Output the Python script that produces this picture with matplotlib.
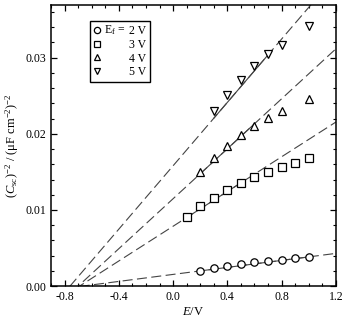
import matplotlib
matplotlib.use("Agg")
import matplotlib.pyplot as plt
import numpy as np
from matplotlib.ticker import MultipleLocator

plt.rcParams['font.family'] = ['Liberation Serif', 'DejaVu Serif']
plt.rcParams['mathtext.fontset'] = 'custom'
plt.rcParams['mathtext.rm'] = 'Liberation Serif'
plt.rcParams['mathtext.it'] = 'Liberation Serif:italic'

# data (E in V, Csc^-2 in (uF cm^-2)^-2)
E_2V = [0.2, 0.3, 0.4, 0.5, 0.6, 0.7, 0.8, 0.9, 1.0]
C_2V = [0.00202, 0.00232, 0.00259, 0.00289, 0.00311, 0.00329, 0.00342, 0.00364, 0.00377]

E_3V = [0.1, 0.2, 0.3, 0.4, 0.5, 0.6, 0.7, 0.8, 0.9, 1.0]
C_3V = [0.0091, 0.01046, 0.01156, 0.01262, 0.01358, 0.01429, 0.01495, 0.01569, 0.01613, 0.01679]

E_4V = [0.2, 0.3, 0.4, 0.5, 0.6, 0.7, 0.8, 1.0]
C_4V = [0.01494, 0.01679, 0.01837, 0.01991, 0.02105, 0.02211, 0.02299, 0.02459]

E_5V = [0.3, 0.4, 0.5, 0.6, 0.7, 0.8, 1.0]
C_5V = [0.0230, 0.0251, 0.0271, 0.0289, 0.0305, 0.0317, 0.0341]

# Mott-Schottky fits: flat band potential, slope, fit range
fb = [-0.67, -0.69, -0.70, -0.76]
slope = [0.0023, 0.0114, 0.0164, 0.0208]
fit_lo = [0.2, 0.1, 0.2, 0.3]
fit_hi = [1.0, 0.5, 0.6, 0.7]

series = [(E_2V, C_2V, 'o'), (E_3V, C_3V, 's'), (E_4V, C_4V, '^'), (E_5V, C_5V, 'v')]
labels = ['2 V', '3 V', '4 V', '5 V']

fig = plt.figure(figsize=(3.47, 3.19), dpi=100)
ax = fig.add_axes([0.147, 0.103, 0.821, 0.881])

xx = np.linspace(-0.9, 1.2, 200)
handles = []
for i, (E, C, m) in enumerate(series):
    ax.plot(xx, slope[i] * (xx - fb[i]), color='#444444', lw=0.8, dashes=(9, 4))
    xs = np.linspace(fit_lo[i], fit_hi[i], 50)
    ax.plot(xs, slope[i] * (xs - fb[i]), color='#444444', lw=0.8)
    h, = ax.plot(E, C, m, ms=5.3, mfc='white', mec='black', mew=0.9, ls='none')
    handles.append(h)

ax.set_xlim(-0.9, 1.2)
ax.set_ylim(0, 0.0369)
ax.xaxis.set_major_locator(MultipleLocator(0.4))
ax.xaxis.set_minor_locator(MultipleLocator(0.1))
ax.yaxis.set_major_locator(MultipleLocator(0.01))
ax.yaxis.set_minor_locator(MultipleLocator(0.002))
ax.xaxis.set_major_formatter(matplotlib.ticker.FuncFormatter(lambda v, p: '%.1f' % v))
ax.yaxis.set_major_formatter(matplotlib.ticker.FuncFormatter(lambda v, p: '%.2f' % v))
ax.tick_params(which='both', direction='in', top=True, right=True, labelsize=8.5)
ax.tick_params(which='major', length=4.5, width=0.9)
ax.tick_params(which='minor', length=2.5, width=0.8)
for s in ax.spines.values():
    s.set_linewidth(1.1)

ax.set_xlabel('$E$/V', fontsize=9, labelpad=2)
ax.set_ylabel('($C_{\\mathrm{sc}}$)$^{-2}$ / (\u03bcF cm$^{-2}$)$^{-2}$', fontsize=9, labelpad=3)

# legend: markers + "N V", with the "E_f =" prefix hung in front of the first label
leg = ax.legend(handles, labels, loc='upper left', bbox_to_anchor=(0.115, 0.965),
                fontsize=8.5, handlelength=0.6, handletextpad=2.35, labelspacing=0.15,
                borderpad=0.35, markerscale=0.85, fancybox=False, edgecolor='black',
                framealpha=1)
leg.get_frame().set_linewidth(1.0)
ax.annotate('E$_\\mathrm{f}$ =', xy=(0, 0), xycoords=leg.get_texts()[0],
            xytext=(-2.5, 0), textcoords='offset points',
            ha='right', va='bottom', fontsize=8.5, zorder=10)

fig.savefig('out.png', dpi=100)
